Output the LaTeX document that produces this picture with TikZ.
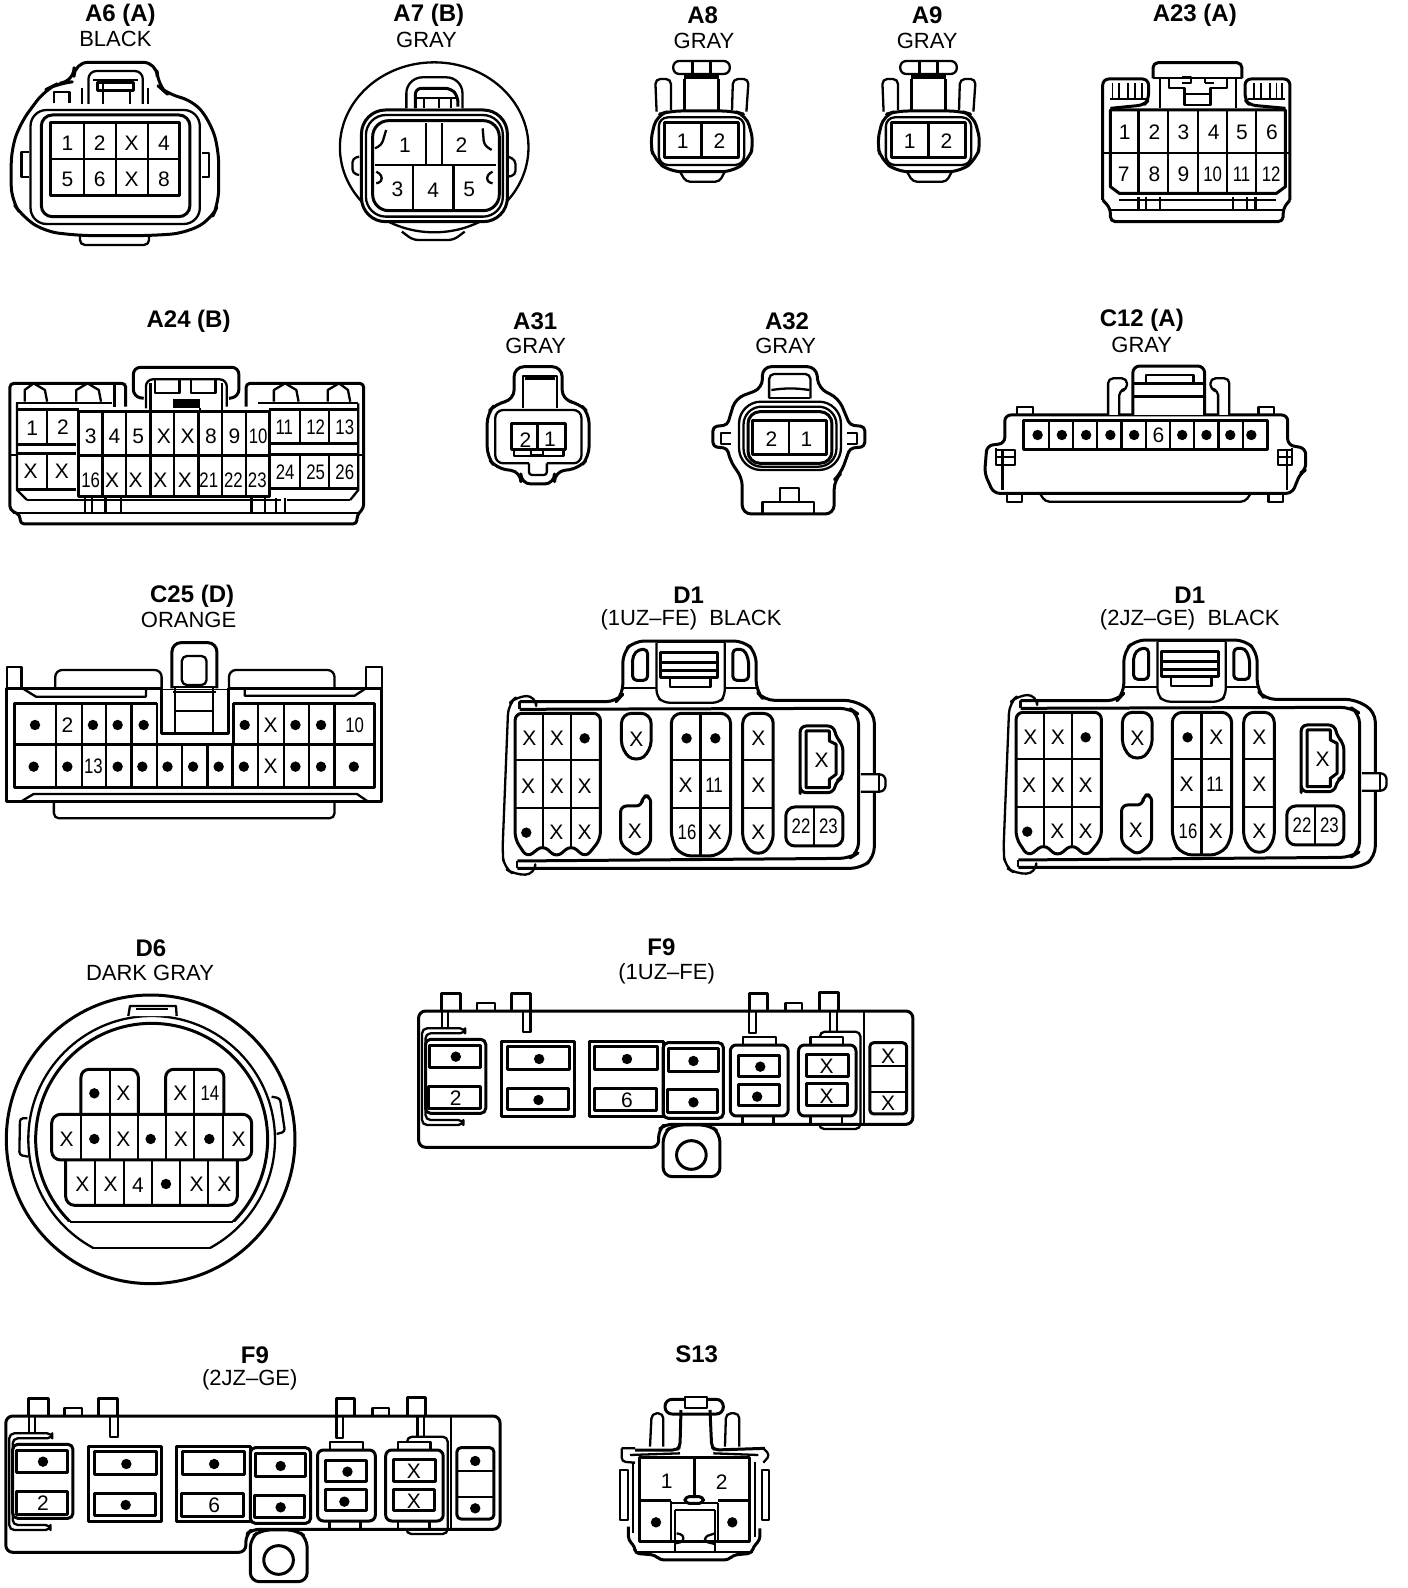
\documentclass[tikz,border=0pt]{standalone}
\usepackage{fontspec}
\usepackage{graphicx}
\setmainfont{Liberation Sans}
\newcounter{nc}
\tikzset{
 zA/.style 2 args={shift={(#1pt,-#2pt)},x=.449pt,y=-.3333pt},
 zB/.style 2 args={shift={(#1pt,-#2pt)},x=.3444pt,y=-.3333pt},
 zC/.style 2 args={shift={(#1pt,-#2pt)},x=.3333pt,y=-.3333pt},
 pinlab/.style={inner sep=0pt,font=\fontsize{21}{21}\selectfont},
 titlab/.style={inner sep=0pt,font=\fontsize{24}{24}\selectfont\bfseries},
 sublab/.style={inner sep=0pt,font=\fontsize{22}{22}\selectfont},
 thin part/.style={line width=1.7pt},
 thick part/.style={line width=3pt}
}
\newcommand\pp[3]{\stepcounter{nc}\node[pinlab] (p\thenc) at (#1,#2) {#3};}
\newcommand\pn[3]{\stepcounter{nc}\node[pinlab] (p\thenc) at (#1,#2) {\scalebox{.8}[1]{#3}};}
\newcommand\xp[2]{\pp{#1}{#2}{X}}
\newcommand\dt[2]{\fill (#1,#2) circle[radius=5.2pt];}
\newcommand\tit[3]{\stepcounter{nc}\node[titlab] (t\thenc) at (#1,#2) {#3};}
\newcommand\subt[3]{\stepcounter{nc}\node[sublab] (s\thenc) at (#1,#2) {#3};}
% A8 / A9 connector, in crop-2 coordinates
\newcommand\ATwo[1]{%
\begin{scope}[zA={#1}{0}]
\draw[rounded corners=6pt] (437,183) rectangle (563,222);
\draw (480,183)--(480,222) (520,183)--(520,222);
\fill (460,222) rectangle (540,238);
\draw (462,238)--(462,330) (538,238)--(538,330);
\draw[rounded corners=5pt] (400,335)--(397,237)--(432,237)--(432,330);
\draw[rounded corners=5pt] (568,330)--(570,237)--(605,237)--(600,335);
\draw[rounded corners=11pt,thick part] (400,345)--(385,430)--(395,480)--(430,515)--(570,515)--(605,480)--(617,430)--(600,345)--(570,333)--(430,333)--cycle;
\draw[rounded corners=9pt] (405,352) rectangle (595,495);
\draw[thick part] (418,368) rectangle (582,473);
\draw (500,368)--(500,473);
\pp{458}{425}{1}\pp{540}{425}{2}
\draw[rounded corners=4pt] (452,515)--(465,545)--(540,545)--(552,515);
\end{scope}}
% D1 connector, in crop-6 coordinates
\newcommand\DOne[3]{%
\begin{scope}[zA={#1}{#2}]
\draw[rounded corners=10pt] (742,362)--(742,345)--(700,345)--(680,370)--(667,810)--(670,860)--(695,882)--(740,880)--(740,862);
\draw (742,362)--(705,362)--(705,385);
\draw (700,840)--(700,862);
\draw[rounded corners=10pt,thick part] (705,362)--(920,362)--(935,340)--(935,215)--(960,180)--(1205,180)--(1232,215)--(1232,330)--(1250,358)--(1450,358)--(1495,395)--(1495,830)--(1465,862)--(700,862);
\draw[rounded corners=10pt,thick part] (705,385)--(1440,382)--(1460,400)--(1460,815)--(1440,832)--(700,840);
\draw[rounded corners=6pt,fill=white] (1465,580)--(1520,580)--(1520,632)--(1465,632);
\draw (1505,580)--(1505,632);
\draw[rounded corners=6pt] (1010,185)--(1010,345)--(1025,365)--(1150,365)--(1162,345)--(1162,185);
\draw (1010,182)--(1162,182);
\draw[thick part] (1020,215)--(1145,215)--(1145,290)--(1020,290)--cycle (1020,245)--(1145,245) (1020,268)--(1145,268);
\draw (1040,290)--(1040,318)--(1130,318)--(1130,290);
\draw[thick part,rounded corners=4pt] (957,298)--(957,225)--(970,205)--(990,205)--(990,298)--cycle;
\draw[thick part,rounded corners=4pt] (1180,298)--(1180,205)--(1205,205)--(1215,235)--(1215,298)--cycle;
\draw (935,320)--(1010,320) (1162,320)--(1232,320);
% 3x3
\draw[fill=white,thick part,rounded corners=7pt] (695,775)--(695,397)--(885,397)--(885,775)--(852,830)--(820,792)--(787,830)--(757,792)--(722,830)--cycle;
\draw (757,397)--(757,800) (820,397)--(820,800) (695,537)--(885,537) (695,682)--(885,682);
\xp{727}{472}\xp{788}{472}\dt{850}{472}
\xp{724}{615}\xp{788}{615}\xp{850}{615}
\dt{720}{755}\xp{787}{755}\xp{850}{755}
% singles
\draw[thick part,rounded corners=10pt] (932,510)--(932,397)--(998,397)--(998,510)--(965,545)--cycle;
\xp{965}{475}
\draw[thick part,rounded corners=6pt] (930,790)--(930,675)--(978,675)--(978,645)--(997,645)--(997,790)--(965,825)--cycle;
\xp{962}{750}
% 2x3
\draw[thick part,rounded corners=10pt] (1043,780)--(1043,397)--(1175,397)--(1175,780)--(1150,825)--(1065,825)--cycle;
\draw (1108,397)--(1108,825) (1043,537)--(1175,537) (1043,682)--(1175,682);
\dt{1077}{472}#3{1141}{472}
\xp{1075}{612}\pn{1138}{612}{11}
\pn{1078}{755}{16}\xp{1140}{755}
% 1x3
\draw[thick part,rounded corners=10pt] (1202,790)--(1202,397)--(1270,397)--(1270,790)--(1237,828)--cycle;
\draw (1202,537)--(1270,537) (1202,680)--(1270,680);
\xp{1237}{472}\xp{1237}{612}\xp{1237}{755}
% side connector
\draw[rounded corners=6pt,thick part] (1330,620)--(1330,435)--(1405,435)--(1410,470)--(1425,490)--(1425,590)--(1410,600)--(1405,635)--(1330,635)--cycle;
\draw[thick part] (1343,450)--(1395,450)--(1395,480)--(1410,490)--(1410,580)--(1395,595)--(1395,620)--(1343,620)--cycle;
\xp{1378}{537}
\draw[thick part,rounded corners=9pt] (1298,678) rectangle (1425,795);
\draw (1360,678)--(1360,795);
\pn{1332}{737}{22}\pn{1393}{737}{23}
\end{scope}}
% F9 connector, in crop-8 coordinates
\newcommand\FNine[3]{%
\begin{scope}[zB={#1}{#2}]
\draw[rounded corners=7pt,thick part] (1320,583)--(740,583)--(722,600)--(722,652)--(25,652)--(25,243)--(1460,243)--(1460,583)--(1320,583);
\draw (1318,243)--(1318,583);
\draw[thick part] (90,243)--(90,190)--(148,190)--(148,243);
\draw (92,243)--(92,295) (110,243)--(110,295);
\draw[thick part] (295,243)--(295,190)--(350,190)--(350,243);
\draw (328,243)--(328,305)--(350,305)--(350,243);
\draw[thick part] (985,243)--(985,190)--(1038,190)--(1038,243);
\draw (985,243)--(985,310)--(1005,310)--(1005,243);
\draw[thick part] (1190,243)--(1190,188)--(1243,188)--(1243,243);
\draw (1220,243)--(1220,305) (1240,243)--(1240,305);
\draw (195,243)--(195,220)--(247,220)--(247,243);
\draw (1090,243)--(1090,220)--(1138,220)--(1138,243);
% module 1
\draw[rounded corners=5pt] (160,295)--(35,295)--(35,585)--(155,585)--(155,570)--(45,570)--(45,310)--(160,310)--cycle;
\draw[rounded corners=5pt,fill=white,thick part] (45,328) rectangle (220,550);
\draw[thick part] (57,345) rectangle (205,412);\dt{133}{380}
\draw[thick part] (55,470) rectangle (205,537);\pp{133}{505}{2}
% module 2
\draw[thick part] (265,333) rectangle (478,560);
\draw[thick part] (282,350) rectangle (463,418);\dt{375}{387}
\draw[thick part] (282,475) rectangle (460,540);\dt{373}{510}
% module 3
\draw[thick part] (520,333) rectangle (735,560);
\draw[thick part] (537,350) rectangle (718,418);\dt{630}{387}
\draw[thick part] (535,475) rectangle (715,543);\pp{630}{512}{6}
% module 4
\draw[thick part,rounded corners=5pt] (735,338) rectangle (910,565);
\draw[thick part] (750,355) rectangle (895,425);\dt{823}{393}
\draw[thick part] (748,480) rectangle (893,548);\dt{823}{517}
% module 5
\draw (967,345)--(967,322)--(1063,322)--(1063,345);
\draw[thick part,rounded corners=6pt] (930,345) rectangle (1098,558);
\draw[thick part] (953,375) rectangle (1073,440);\dt{1017}{410}
\draw[thick part] (953,463) rectangle (1073,527);\dt{1008}{500}
\draw (965,558)--(965,583) (1055,558)--(1055,583);
% module 6
\draw[rounded corners=5pt] (1190,320)--(1190,305)--(1308,305)--(1308,597)--(1188,597)--(1188,585);
\draw (1163,345)--(1163,322)--(1258,322)--(1258,345);
\draw[thick part,rounded corners=6pt,fill=white] (1128,345) rectangle (1295,558);
\draw[thick part] (1150,373) rectangle (1272,440);\xp{1210}{410}
\draw[thick part] (1150,462) rectangle (1270,527);\xp{1210}{500}
\draw (1163,558)--(1163,583) (1255,558)--(1255,583);
% module 7
\draw[thick part,rounded corners=4pt] (1335,338) rectangle (1442,552);
\draw (1335,408)--(1442,408) (1335,487)--(1442,487);
#3{1388}{378}#3{1388}{520}
% ear
\draw[thick part,rounded corners=9pt,fill=white] (735,610)--(765,585)--(870,585)--(900,610)--(900,740)--(735,740)--cycle;
\draw[thick part] (817,675) circle[radius=43];
\end{scope}}
\begin{document}
\begin{tikzpicture}[line width=2.3pt,line join=round]
\useasboundingbox (0pt,0pt) rectangle (1408pt,-1588pt);
\fill[white] (0pt,0pt) rectangle (1408pt,-1588pt);
% ---------- crop 1
\begin{scope}[zA={0}{0}]
\tit{268}{47}{A6 (A)}\subt{257}{118}{BLACK}
\draw[thick part,rounded corners=14pt] (165,245)--(165,187)--(350,187)--(350,255)--(375,285)--(430,300)--(470,370)--(487,450)--(487,610)--(470,660)--(410,700)--(330,707)--(180,707)--(100,695)--(50,650)--(25,600)--(25,450)--(45,370)--(100,270)--(130,250)--cycle;
\draw[rounded corners=16pt] (68,330) rectangle (445,672);
\draw[thick part,rounded corners=11pt] (92,345) rectangle (423,650);
\draw[thick part] (113,368) rectangle (400,587);
\foreach \v in {187,259,330} {\draw (\v,368)--(\v,587);}
\draw (113,478)--(400,478);
\pp{150}{430}{1}\pp{222}{430}{2}\xp{293}{430}\pp{365}{430}{4}
\pp{150}{537}{5}\pp{222}{537}{6}\xp{293}{537}\pp{365}{537}{8}
\draw[rounded corners=8pt] (197,312)--(197,213)--(318,213)--(318,312);
\draw (183,312)--(183,265) (330,312)--(330,265);
\draw[thick part] (218,248) rectangle (297,272);
\draw (207,240)--(308,240) (230,250)--(230,312) (290,275)--(290,312);
\draw (120,310)--(120,275)--(155,275)--(155,310);
\draw (65,455)--(48,455)--(48,530)--(65,530);
\draw (450,458)--(466,458)--(466,530)--(450,530);
\draw[rounded corners=5pt] (178,707)--(178,735)--(332,735)--(332,707);
% A7
\tit{955}{47}{A7 (B)}\subt{950}{120}{GRAY}
\draw (967,442) ellipse[x radius=210,y radius=255];
\draw[rounded corners=5pt] (895,695)--(920,720)--(1010,720)--(1035,695);
\draw[thick part,rounded corners=24pt,fill=white] (805,330) rectangle (1130,665);
\draw[rounded corners=20pt] (815,345) rectangle (1120,650);
\draw[thick part,rounded corners=16pt] (830,362) rectangle (1112,632);
\draw[rounded corners=16pt,fill=white] (905,325)--(905,232)--(1030,232)--(1030,325);
\draw[thick part,rounded corners=6pt] (925,325)--(925,265)--(1005,265)--(1020,290)--(1020,320);
\draw (945,295)--(945,325) (978,295)--(978,325) (925,295)--(1020,295) (1005,295)--(1005,325);
\draw (835,495)--(1105,495) (948,370)--(948,495) (985,370)--(985,495) (920,495)--(920,630) (1010,495)--(1010,630);
\pp{902}{435}{1}\pp{1028}{435}{2}\pp{885}{568}{3}\pp{965}{570}{4}\pp{1045}{568}{5}
\draw[rounded corners=4pt] (860,390)--(850,435)--(835,445);
\draw[rounded corners=4pt] (1075,385)--(1078,435)--(1095,450);
\draw[rounded corners=3pt] (838,515)--(850,525)--(850,545)--(838,550);
\draw[rounded corners=3pt] (1097,515)--(1085,525)--(1085,545)--(1097,550);
\draw[rounded corners=4pt] (800,470)--(785,475)--(785,520)--(800,525);
\draw[rounded corners=4pt] (1132,470)--(1148,480)--(1148,525)--(1132,530);
\tit{1565}{47}{A8}\subt{1568}{122}{GRAY}
\end{scope}
\ATwo{477}
\ATwo{704}
% ---------- crop 2
\begin{scope}[zA={704}{0}]
\tit{497}{47}{A9}\subt{497}{122}{GRAY}
\tit{1093}{47}{A23 (A)}
\draw[rounded corners=5pt,thick part] (1000,235)--(1000,188)--(1198,188)--(1198,235);
\draw (1000,235)--(1198,235) (1015,235)--(1015,325) (1185,235)--(1185,325);
\draw[rounded corners=6pt,thick part] (888,600)--(888,237)--(990,237)--(990,300)--(980,315)--(905,325);
\draw[rounded corners=6pt,thick part] (1305,600)--(1305,237)--(1205,237)--(1205,300)--(1215,315)--(1295,325);
\foreach \v in {910,925,945,960,975,1225,1240,1260,1275,1288} {\draw[thin part] (\v,250)--(\v,295);}
\draw (905,297)--(985,297) (1212,297)--(1295,297);
\draw (1035,232)--(1035,265)--(1070,265)--(1070,315)--(1128,315)--(1128,265)--(1165,265)--(1165,232);
\draw (1065,232)--(1085,232)--(1085,250)--(1065,250) (1115,250)--(1135,250) (1115,232)--(1115,250);
\draw (1070,283)--(1128,283);
\draw[thick part] (905,330)--(905,560)--(925,580)--(1275,580)--(1295,560)--(1295,330)--cycle;
\draw (890,460)--(1305,460);
\foreach \v in {968,1033,1100,1165,1230} {\draw (\v,330)--(\v,580);}
\pp{937}{398}{1}\pp{1003}{398}{2}\pp{1068}{398}{3}\pp{1135}{398}{4}\pp{1198}{398}{5}\pp{1265}{398}{6}
\pp{935}{523}{7}\pp{1003}{523}{8}\pp{1068}{523}{9}\pn{1133}{523}{10}\pn{1197}{523}{11}\pn{1263}{523}{12}
\draw[rounded corners=5pt,thick part] (888,600)--(905,625)--(905,665)--(1290,665)--(1290,625)--(1305,600);
\draw (925,600)--(1275,600) (905,630)--(1290,630);
\foreach \v in {968,985,1015,1178,1210,1228} {\draw (\v,590)--(\v,630);}
\end{scope}
% ---------- crop 3
\begin{scope}[zA={0}{300}]
\tit{420}{63}{A24 (B)}
\draw[thick part,rounded corners=4pt] (280,320)--(280,250)--(22,250)--(22,630)--(45,645)--(45,672)--(795,672)--(795,645)--(810,625)--(810,250)--(548,250)--(548,320);
\draw[thick part,rounded corners=7pt] (320,295)--(297,290)--(297,202)--(532,202)--(532,290)--(510,295);
\draw[rounded corners=7pt] (325,325)--(325,238)--(505,238)--(505,320);
\draw (345,238)--(345,278)--(400,278)--(400,238) (425,238)--(425,278)--(480,278)--(480,238);
\fill (385,298) rectangle (445,325);
\draw (335,250)--(335,330) (495,250)--(495,330) (445,325)--(445,335) (255,320)--(255,255);
\draw (55,305)--(55,270)--(75,250)--(100,270)--(105,305);
\draw (170,305)--(170,270)--(195,250)--(220,270)--(225,305);
\draw (610,305)--(610,270)--(635,250)--(660,270)--(665,305);
\draw (730,305)--(730,270)--(755,250)--(775,270)--(780,305);
\draw (35,310)--(250,310) (575,310)--(798,310);
\draw (38,310)--(38,570)--(60,600) (798,310)--(798,570)--(780,600);
\draw[thick part] (38,330)--(175,330) (38,435)--(170,435) (38,462)--(170,462) (38,570)--(170,570);
\draw (104,330)--(104,435) (104,462)--(104,570);
\pp{72}{385}{1}\pp{140}{383}{2}\xp{68}{515}\xp{138}{515}
\draw[thick part] (175,335) rectangle (600,590);
\draw[thick part] (175,468)--(600,468);
\foreach \v in {228,281,335,388,442,495,548} {\draw (\v,335)--(\v,590);}
\pp{202}{408}{3}\pp{255}{408}{4}\pp{308}{408}{5}\xp{365}{408}\xp{418}{408}\pp{470}{408}{8}\pp{522}{408}{9}\pn{575}{408}{10}
\pn{202}{540}{16}\xp{250}{540}\xp{302}{540}\xp{357}{540}\xp{412}{540}\pn{465}{540}{21}\pn{520}{540}{22}\pn{573}{540}{23}
\draw[thick part] (600,330)--(798,330) (600,430)--(798,430) (600,465)--(798,465) (600,565)--(798,565);
\foreach \v in {668,733} {\draw (\v,330)--(\v,430) (\v,465)--(\v,565);}
\pn{633}{383}{11}\pn{703}{383}{12}\pn{768}{383}{13}\pn{635}{517}{24}\pn{703}{517}{25}\pn{768}{517}{26}
\draw (22,465)--(38,465) (798,465)--(810,465);
\draw (60,600)--(625,600) (640,600)--(780,600) (30,640)--(800,640);
\foreach \v in {190,205,235,270,560,590,615,635} {\draw (\v,595)--(\v,638);}
% A31
\tit{1192}{63}{A31}\subt{1193}{138}{GRAY}
\draw[thick part,rounded corners=10pt] (1145,300)--(1145,200)--(1252,200)--(1252,300)--(1290,310)--(1312,340)--(1312,470)--(1290,505)--(1235,515)--(1235,552)--(1160,552)--(1160,515)--(1105,505)--(1085,470)--(1085,340)--(1105,310)--cycle;
\draw (1165,325)--(1165,228)--(1240,228)--(1240,325);
\fill (1170,230) rectangle (1235,240);
\draw[rounded corners=8pt] (1178,490)--(1103,490)--(1103,330)--(1295,330)--(1295,490)--(1218,490);
\draw[rounded corners=3pt] (1178,490)--(1178,525)--(1218,525)--(1218,490);
\draw[thick part] (1140,372) rectangle (1260,450);
\draw (1197,372)--(1197,450) (1145,450)--(1145,468)--(1255,468)--(1255,450);
\draw (1182,450) rectangle (1210,465);
\pp{1170}{420}{2}\pp{1225}{418}{1}
\end{scope}
% ---------- crop 4
\begin{scope}[zA={704}{300}]
\tit{185}{63}{A32}\subt{182}{138}{GRAY}
\draw[thick part,rounded corners=9pt] (130,265)--(130,200)--(250,200)--(255,265)--(300,295)[rounded corners=4pt]--(325,375)--(358,380)--(358,440)--(325,445)[rounded corners=9pt]--(305,520)--(290,540)--(290,642)--(85,642)--(85,530)--(60,490)[rounded corners=4pt]--(52,445)--(20,440)--(20,380)--(52,375)[rounded corners=9pt]--(70,295)--cycle;
\draw[rounded corners=5pt] (145,295)--(145,222)--(237,222)--(237,295);
\draw (150,270) to[bend left=8] (235,270);
\draw (145,295)--(237,295);
\draw[rounded corners=22pt] (78,305) rectangle (305,510);
\draw[rounded corners=18pt] (88,320) rectangle (295,500);
\draw[rounded corners=12pt,thick part] (98,335) rectangle (285,490);
\draw[thick part] (108,362) rectangle (272,465);
\draw (190,362)--(190,465);
\pp{150}{418}{2}\pp{228}{418}{1}
\draw (60,400)--(38,400)--(38,432)--(60,432) (318,400)--(340,400)--(340,432)--(318,432);
\draw (130,640)--(130,605)--(170,605)--(170,565)--(212,565)--(212,605)--(245,605)--(245,640) (170,605)--(212,605);
% C12
\tit{975}{60}{C12 (A)}\subt{975}{135}{GRAY}
\draw[thick part,rounded corners=6pt] (670,430)--(670,345)--(1300,345)--(1300,435)--(1340,445)--(1340,510)--(1328,520)--(1310,580)--(645,580)--(625,520)--(630,437)--cycle;
\draw[rounded corners=5pt,fill=white] (900,345)--(900,235)--(942,235)--(942,270)--(925,270)--(925,345);
\draw[rounded corners=5pt,fill=white] (1170,345)--(1170,235)--(1128,235)--(1128,270)--(1145,270)--(1145,345);
\draw[thick part,rounded corners=7pt,fill=white] (955,345)--(955,198)--(1115,198)--(1115,345);
\draw[thick part] (955,250)--(1115,250) (955,290)--(1115,290);
\draw (985,245)--(985,225)--(1090,225)--(1090,245);
\draw[thick part] (712,362) rectangle (1255,450);
\foreach \v in {768,822,876,930,984,1038,1092,1146,1200} {\draw (\v,362)--(\v,450);}
\foreach \v in {743,797,851,905,958,1065,1119,1172,1219} {\dt{\v}{405}}
\pp{1012}{405}{6}
\draw (697,345)--(697,322)--(732,322)--(732,345) (1235,345)--(1235,320)--(1270,320)--(1270,345);
\draw (675,580)--(675,605)--(708,605)--(708,580) (1257,580)--(1257,605)--(1290,605)--(1290,580);
\draw[rounded corners=4pt] (748,580)--(760,605)--(1205,605)--(1218,580);
\draw (665,450)--(665,570) (1298,450)--(1298,570);
\draw (650,445)--(650,495)--(692,495)--(692,450)--(650,450) (650,470)--(692,470);
\draw (1310,445)--(1310,495)--(1278,495)--(1278,450)--(1310,450) (1278,470)--(1310,470);
\end{scope}
% ---------- crop 5
\begin{scope}[zA={0}{580}]
\tit{428}{50}{C25 (D)}\subt{420}{120}{ORANGE}
\draw[thick part] (15,325) rectangle (850,665);
\draw[fill=white,draw=none] (361,322) rectangle (509,328);
\draw (15,325)--(15,262)--(48,262)--(48,325) (815,325)--(815,262)--(850,262)--(850,325);
\draw[rounded corners=7pt] (123,325)--(123,270)--(360,270)--(360,325) (510,325)--(510,270)--(745,270)--(745,325);
\draw[thick part,rounded corners=9pt,fill=white] (383,325)--(383,188)--(483,188)--(483,325);
\draw[rounded corners=5pt] (405,315)--(405,228)--(460,228)--(460,315)--cycle;
\draw[thick part] (360,325)--(360,462)--(510,462)--(510,325);
\draw (390,325)--(390,462) (475,325)--(475,462) (390,392)--(475,392) (385,335)--(480,335) (385,322)--(480,322);
\draw[thick part] (350,370)--(33,370)--(33,622)--(833,622)--(833,370)--(520,370);
\draw (350,370)--(350,495) (520,370)--(520,495);
\draw[thick part] (33,495)--(833,495);
\foreach \v in {125,183,236,293,575,632,688,745} {\draw (\v,370)--(\v,622);}
\foreach \v in {350,405,462,518} {\draw (\v,495)--(\v,622);}
\dt{78}{435}\pp{150}{435}{2}\dt{207}{435}\dt{262}{435}\dt{320}{435}\dt{545}{435}\xp{603}{435}\dt{658}{435}\dt{715}{435}\pn{790}{435}{10}
\dt{75}{560}\dt{150}{560}\pn{208}{560}{13}\dt{262}{560}\dt{317}{560}\dt{373}{560}\dt{430}{560}\dt{487}{560}\dt{543}{560}\xp{603}{560}\dt{658}{560}\dt{715}{560}\dt{788}{560}
\draw (50,325)--(80,350)--(325,350)--(325,330) (545,330)--(545,347)--(790,347)--(815,325);
\draw (50,662)--(75,642)--(795,642)--(820,665);
\draw[rounded corners=5pt] (120,665)--(120,715)--(745,715)--(745,665);
\end{scope}
\DOne{203}{581}{\dt}
\DOne{704}{580}{\xp}
\begin{scope}[zA={704}{580}]
\tit{-34}{47}{D1}\subt{-29}{120}{(1UZ–FE)\ \ BLACK}
\tit{1082}{47}{D1}\subt{1082}{118}{(2JZ–GE)\ \ BLACK}
\end{scope}
% ---------- crop 7
\begin{scope}[zC={0}{930}]
\tit{453}{55}{D6}\subt{450}{128}{DARK GRAY}
\draw[thick part] (452,628) circle[radius=433];
\begin{scope}\clip (0,0) rectangle (900,955);\draw (455,628) circle[radius=370];\end{scope}
\draw (277,955)--(627,955);
\begin{scope}\clip (0,0) rectangle (900,875);\draw[thick part] (455,628) circle[radius=348];\end{scope}
\draw (210,875)--(700,875);
\draw[fill=white] (385,258)--(390,228)--(528,228)--(530,258);
\fill (408,233) rectangle (505,240);
\draw[rounded corners=3pt] (82,565)--(60,565)--(58,675)--(85,680);
\draw[rounded corners=3pt] (815,500)--(840,505)--(855,605)--(830,612);
\draw[rounded corners=8pt,thick part] (243,553)--(243,418)--(415,418)--(415,553);
\draw (330,418)--(330,553);
\dt{283}{490}\xp{370}{490}
\draw[rounded corners=8pt,thick part] (497,553)--(497,418)--(672,418)--(672,553);
\draw (583,418)--(583,553);
\xp{541}{490}\pn{630}{490}{14}
\draw[rounded corners=9pt,thick part] (155,553) rectangle (755,690);
\foreach \v in {243,330,415,497,583,670} {\draw (\v,553)--(\v,690);}
\xp{200}{627}\dt{283}{627}\xp{370}{627}\dt{452}{627}\xp{543}{627}\dt{628}{627}\xp{716}{627}
\draw[rounded corners=9pt,thick part] (197,690)--(197,826)--(712,826)--(712,690);
\foreach \v in {285,372,457,540,625} {\draw (\v,690)--(\v,826);}
\xp{247}{762}\xp{332}{762}\pp{414}{765}{4}\dt{498}{762}\xp{590}{762}\xp{673}{762}
\end{scope}
% ---------- F9
\FNine{410}{930}{\xp}
\begin{scope}[zB={410}{930}]
\tit{730}{52}{F9}\subt{745}{130}{(1UZ–FE)}
\end{scope}
\FNine{-2.8}{1335}{\dt}
\begin{scope}[zB={0}{1340}]
\tit{740}{45}{F9}\subt{725}{120}{(2JZ–GE)}
\end{scope}
% ---------- crop 10
\begin{scope}[zC={600}{1340}]
\tit{290}{43}{S13}
\draw[rounded corners=5pt] (150,320)--(155,220)--(190,220)--(190,320);
\draw[rounded corners=5pt] (375,320)--(378,220)--(418,220)--(418,320);
\draw[thick part,rounded corners=7pt,fill=white] (195,178) rectangle (370,222);
\draw[fill=white] (255,172) rectangle (320,205);
\draw[thick part,rounded corners=4pt] (243,210)--(240,320)--(230,330)--(105,330);
\draw[thick part,rounded corners=4pt] (330,210)--(335,320)--(345,330)--(495,325);
\draw[rounded corners=4pt] (65,325)--(105,325) (65,325)--(65,365)--(105,368);
\draw[rounded corners=4pt] (490,325)--(510,345)--(490,368);
\draw (90,345)--(240,340) (340,340)--(475,345);
\draw[thick part] (118,352) rectangle (450,605);
\draw (100,370)--(100,580) (465,365)--(465,590);
\draw (60,390)--(85,390)--(85,540)--(60,540)--cycle (485,390)--(508,390)--(508,540)--(485,540)--cycle;
\draw[thick part] (118,482)--(212,482) (355,482)--(450,482);
\draw[thick part] (283,352)--(283,470);
\draw[thick part,rounded corners=4pt,fill=white] (255,470) rectangle (310,490);
\draw (212,482)--(212,605) (355,490)--(355,605) (212,490)--(355,490);
\draw (225,510)--(345,510) (225,510)--(225,635) (345,510)--(345,635);
\pp{200}{425}{1}\pp{365}{425}{2}\dt{168}{547}\dt{397}{547}
\draw[rounded corners=3pt] (230,580)--(250,585)--(250,605)--(225,610);
\draw[rounded corners=3pt] (345,580)--(315,590)--(315,605)--(345,612);
\draw[rounded corners=4pt,thick part] (85,560)--(85,600)--(105,620)--(105,640)--(165,645)--(180,660)--(385,660)--(400,645)--(455,640)--(460,620)--(480,600)--(480,565);
\draw (105,635)--(460,635);
\end{scope}
\end{tikzpicture}
\end{document}
